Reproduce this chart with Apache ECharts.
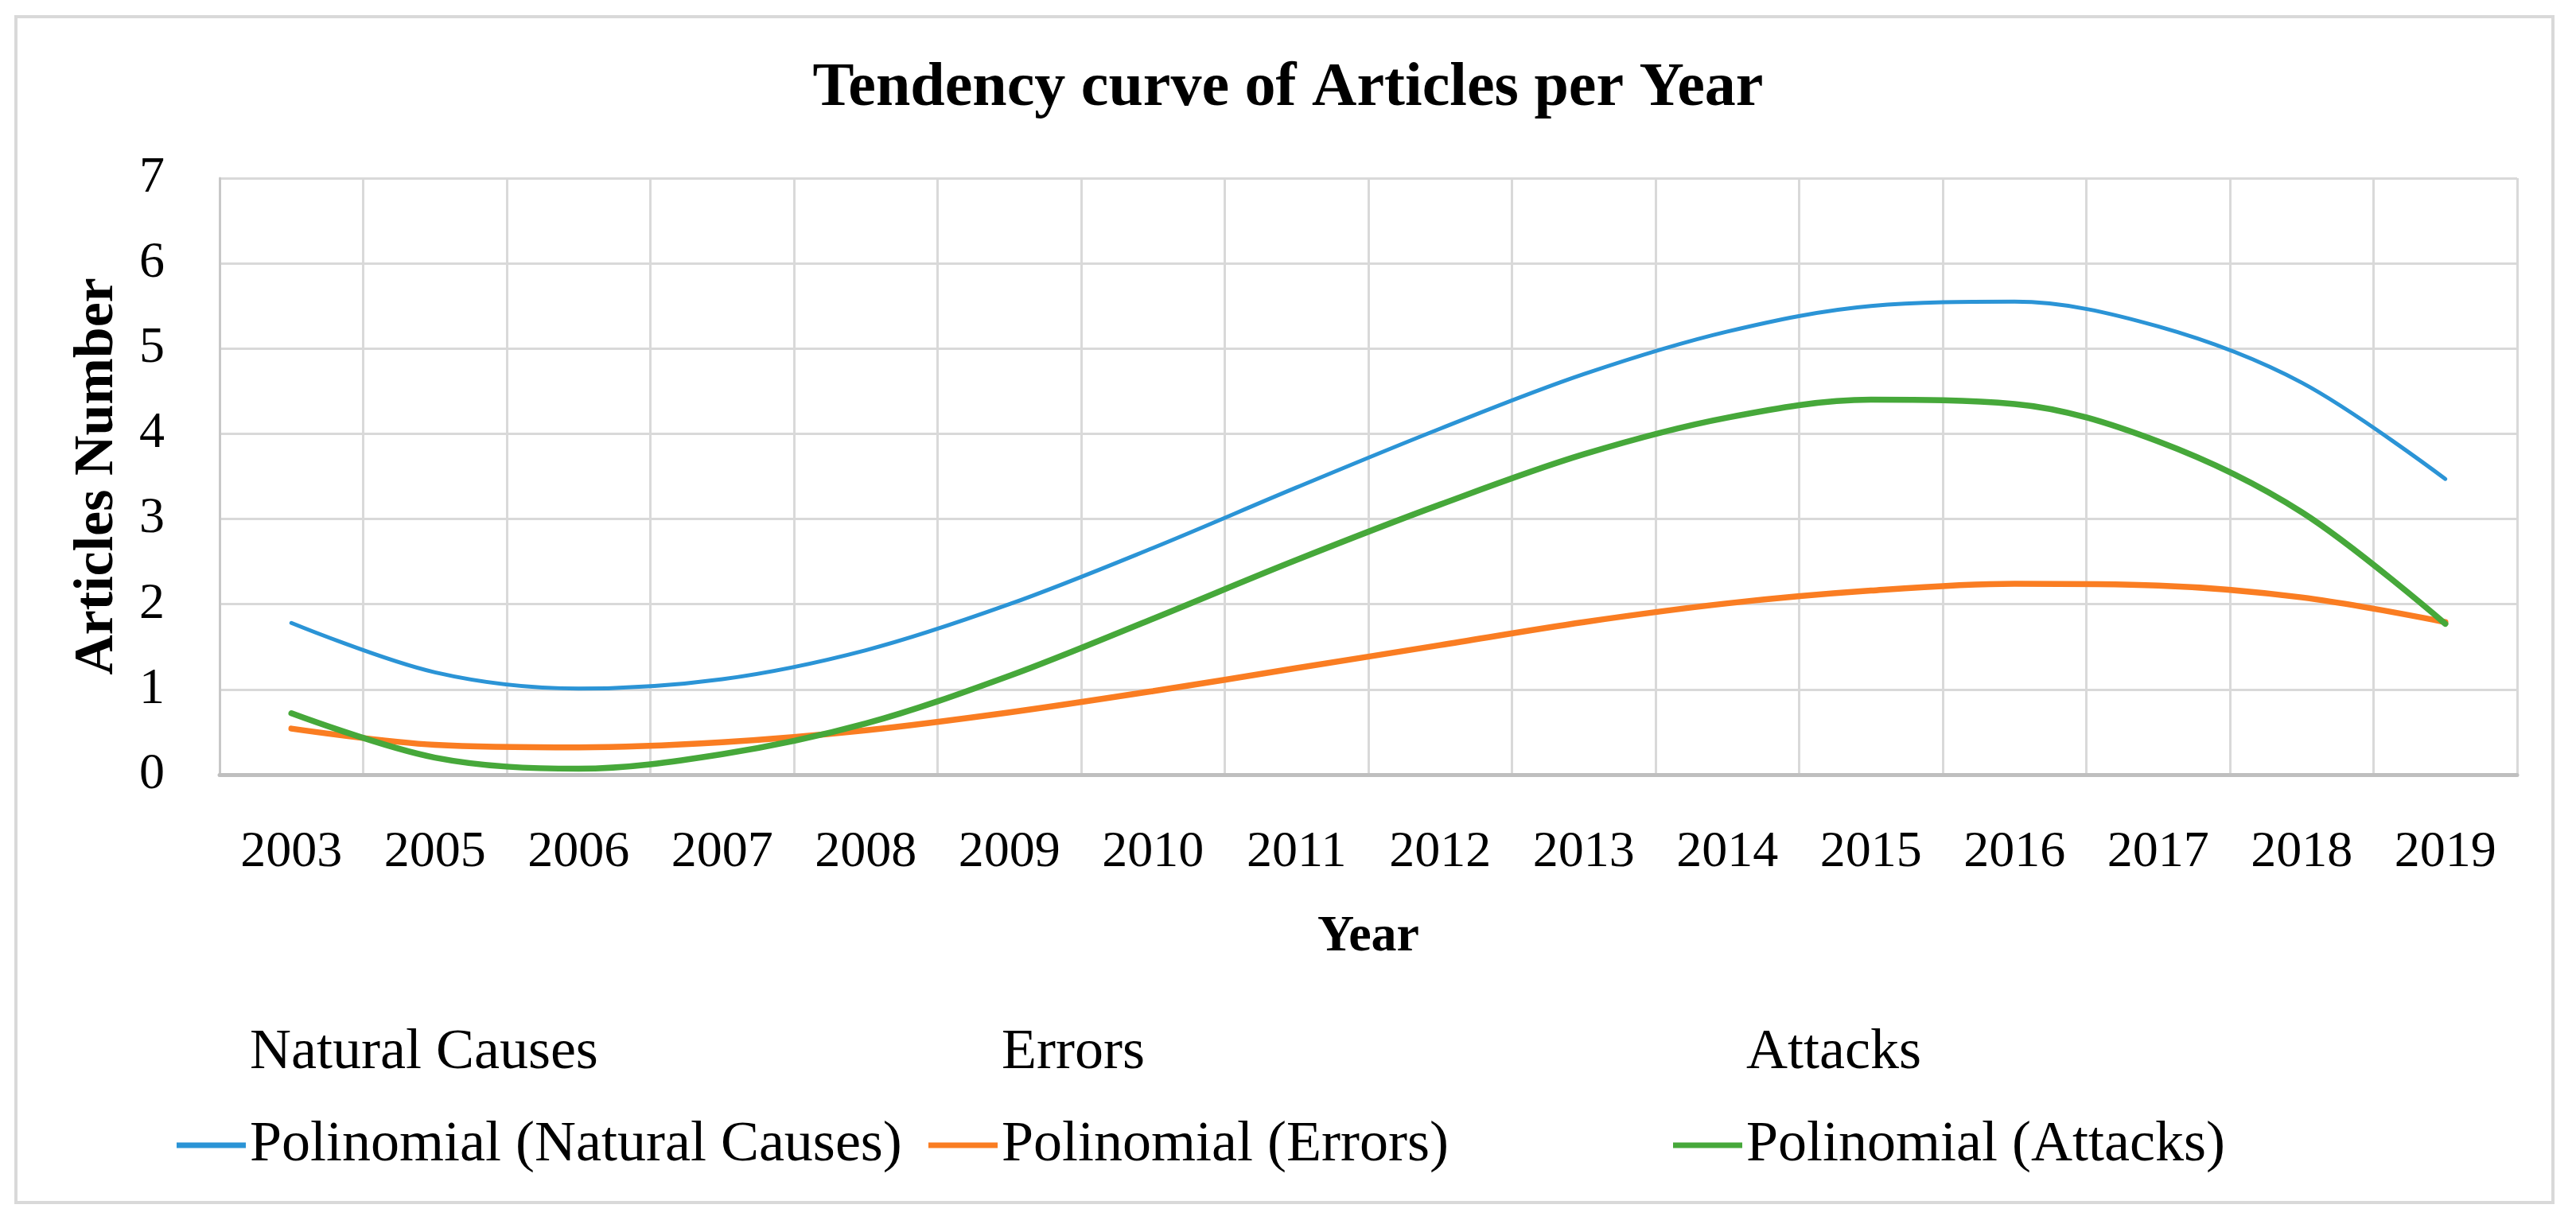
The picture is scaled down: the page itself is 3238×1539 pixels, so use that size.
<!DOCTYPE html>
<html>
<head>
<meta charset="utf-8">
<title>Tendency curve of Articles per Year</title>
<script src="https://cdn.jsdelivr.net/npm/echarts@6/dist/echarts.min.js"></script>
<style>
  html, body { margin: 0; padding: 0; background: #ffffff; }
  #chart { width: 3238px; height: 1539px; }
</style>
</head>
<body>
<div id="chart"></div>
<script>
// ---- Data ----
const years = ['2003', '2005', '2006', '2007', '2008', '2009', '2010', '2011',
               '2012', '2013', '2014', '2015', '2016', '2017', '2018', '2019'];

const polyNatural = [1.78, 1.20, 1.01, 1.12, 1.46, 2.00, 2.66, 3.37,
                     4.06, 4.70, 5.20, 5.50, 5.55, 5.26, 4.60, 3.47];
const polyErrors  = [0.54, 0.35, 0.32, 0.38, 0.52, 0.73, 0.98, 1.25,
                     1.52, 1.79, 2.01, 2.16, 2.24, 2.22, 2.08, 1.79];
const polyAttacks = [0.72, 0.20, 0.07, 0.24, 0.60, 1.16, 1.83, 2.52,
                     3.17, 3.76, 4.19, 4.40, 4.35, 3.91, 3.08, 1.77];

// raw series appear only in the legend (no visible marks)
const rawNatural = [];
const rawErrors = [];
const rawAttacks = [];

const yTicks = { min: 0, max: 7, interval: 1 };

const names = {
  natural: 'Natural Causes', errors: 'Errors', attacks: 'Attacks',
  pNatural: 'Polinomial (Natural Causes)', pErrors: 'Polinomial (Errors)', pAttacks: 'Polinomial (Attacks)'
};

const colors = { natural: '#2B94D6', errors: '#FA7D22', attacks: '#46A83A' };

// ---- Chart ----
const FONT = "'Liberation Serif', 'Times New Roman', serif";
const chart = echarts.init(document.getElementById('chart'), null, { renderer: 'canvas' });

function legendAt(name, left, top) {
  return {
    data: [name],
    left: left, top: top,
    orient: 'horizontal',
    icon: 'rect',
    itemWidth: 87, itemHeight: 7,
    selectedMode: false,
    textStyle: { fontFamily: FONT, fontSize: 72, color: '#000000', lineHeight: 72 }
  };
}

const transparentSeries = (name, data) => ({
  name: name, type: 'line', data: data, symbol: 'none',
  itemStyle: { color: 'rgba(0,0,0,0)' },
  lineStyle: { color: 'rgba(0,0,0,0)', width: 0 },
  silent: true
});

const trendSeries = (name, data, color, width) => ({
  name: name, type: 'line', data: data, smooth: 0.34, symbol: 'none',
  itemStyle: { color: color },
  lineStyle: { color: color, width: width, cap: 'round' },
  silent: true
});

const option = {
  backgroundColor: '#ffffff',
  animation: false,
  title: {
    text: 'Tendency curve of Articles per Year',
    left: 'center', top: 68,
    textStyle: { fontFamily: FONT, fontSize: 78, fontWeight: 'bold', color: '#000000' }
  },
  graphic: [{
    type: 'rect', silent: true, z: -1,
    shape: { x: 20, y: 21, width: 3189, height: 1491 },
    style: { fill: 'none', stroke: '#D9D9D9', lineWidth: 4 }
  }],
  legend: [
    legendAt(names.natural, 217, 1283),
    legendAt(names.errors, 1162, 1283),
    legendAt(names.attacks, 2098, 1283),
    legendAt(names.pNatural, 217, 1399),
    legendAt(names.pErrors, 1162, 1399),
    legendAt(names.pAttacks, 2098, 1399)
  ],
  grid: { left: 276, right: 74, top: 224, bottom: 565, containLabel: false },
  xAxis: {
    type: 'category',
    data: years,
    boundaryGap: true,
    name: 'Year',
    nameLocation: 'middle',
    nameGap: 172,
    nameTextStyle: { fontFamily: FONT, fontSize: 64, fontWeight: 'bold', color: '#000000' },
    axisLine: { show: true, lineStyle: { color: '#BFBFBF', width: 5 } },
    axisTick: { show: false },
    axisLabel: { fontFamily: FONT, fontSize: 64, color: '#000000', margin: 66, interval: 0 },
    splitLine: { show: true, interval: 0, lineStyle: { color: '#D9D9D9', width: 3 } }
  },
  yAxis: {
    type: 'value',
    min: yTicks.min, max: yTicks.max, interval: yTicks.interval,
    name: 'Articles Number',
    nameLocation: 'middle',
    nameRotate: 90,
    nameGap: 118,
    nameTextStyle: { fontFamily: FONT, fontSize: 70, fontWeight: 'bold', color: '#000000' },
    axisLine: { show: true, lineStyle: { color: '#C8C8C8', width: 3 } },
    axisTick: { show: false },
    axisLabel: { fontFamily: FONT, fontSize: 64, color: '#000000', margin: 69 },
    splitLine: { show: true, lineStyle: { color: '#D9D9D9', width: 3 } }
  },
  series: [
    transparentSeries(names.natural, rawNatural),
    transparentSeries(names.errors, rawErrors),
    transparentSeries(names.attacks, rawAttacks),
    trendSeries(names.pNatural, polyNatural, colors.natural, 5),
    trendSeries(names.pErrors, polyErrors, colors.errors, 7.5),
    trendSeries(names.pAttacks, polyAttacks, colors.attacks, 7.5)
  ]
};

chart.setOption(option);
</script>
</body>
</html>
